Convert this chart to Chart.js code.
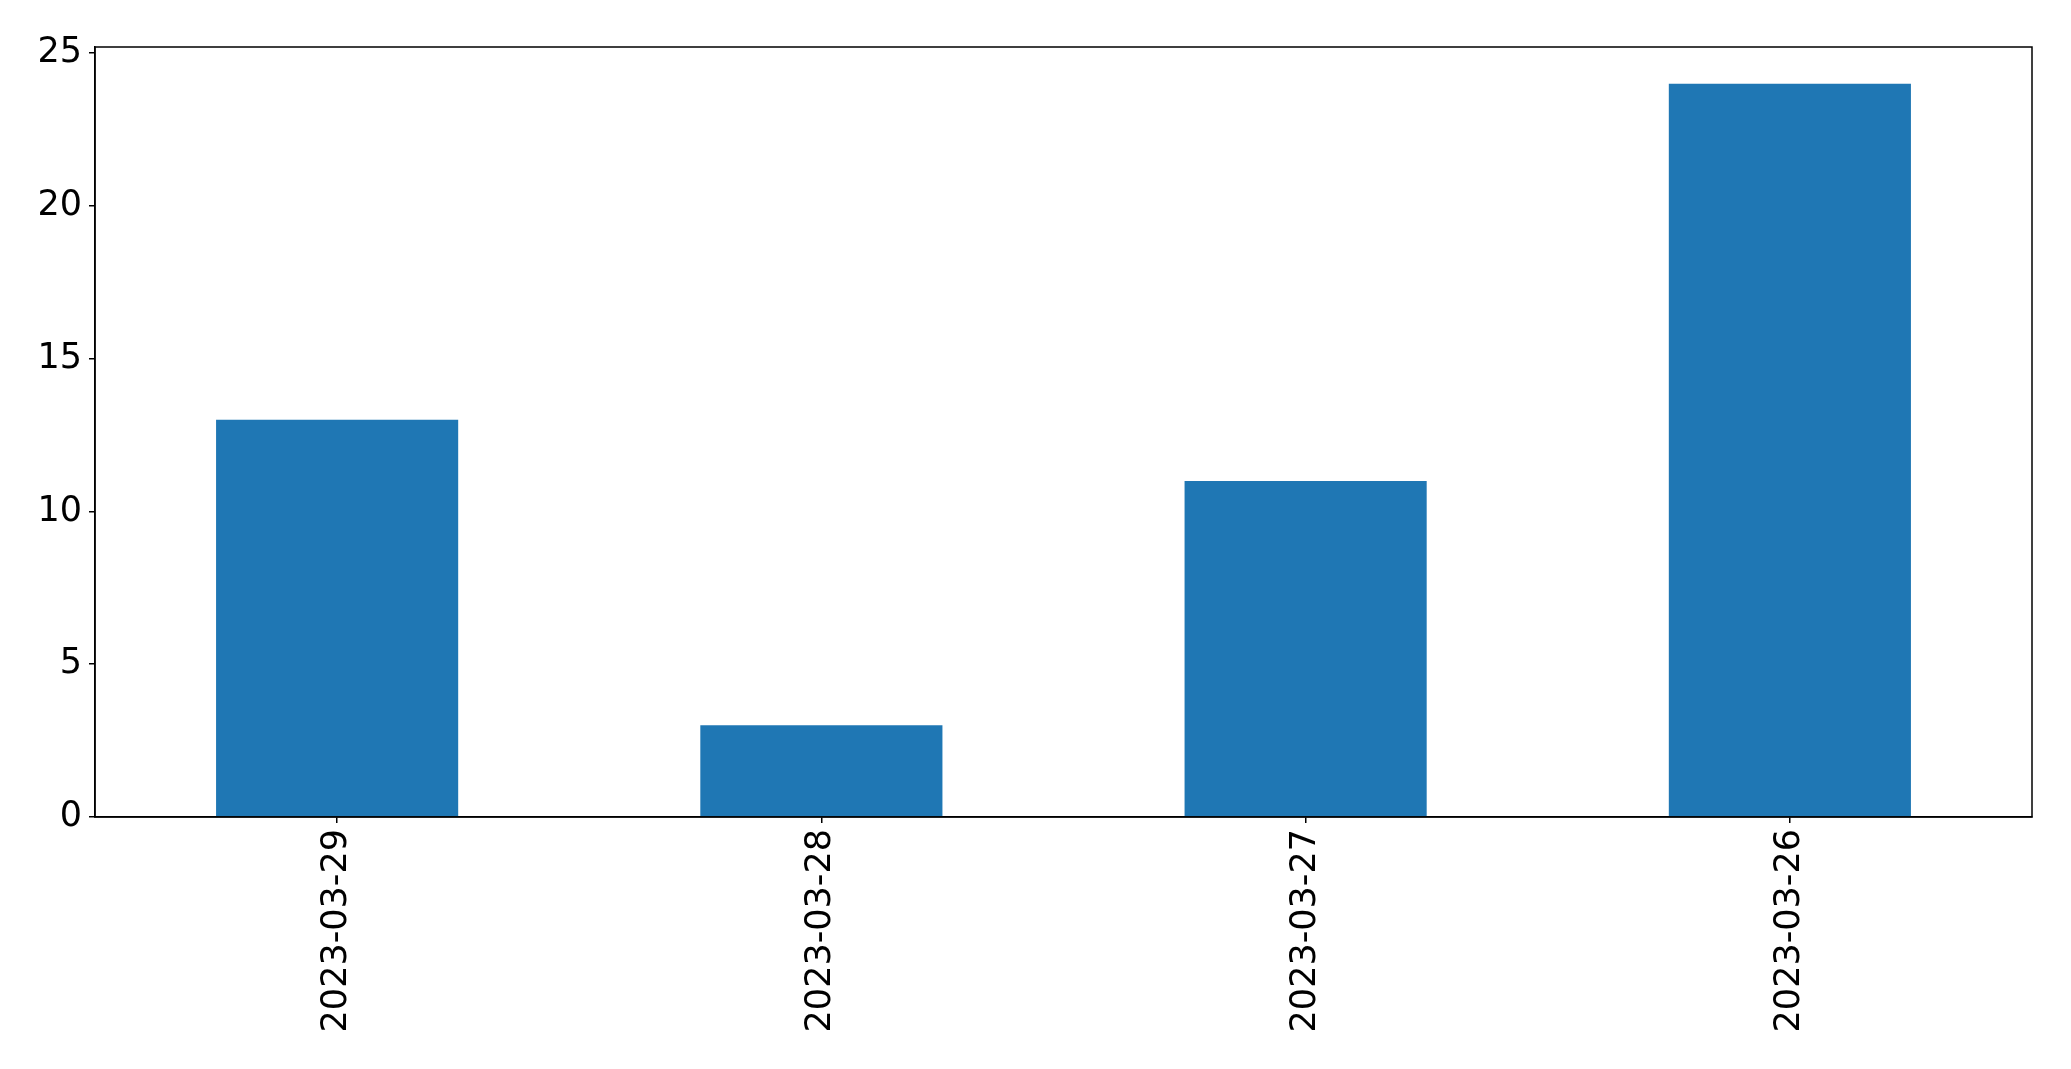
<!DOCTYPE html>
<html>
<head>
<meta charset="utf-8">
<script src="https://cdn.jsdelivr.net/npm/chart.js@4/dist/chart.umd.min.js"></script>
<style>
  html, body { margin: 0; padding: 0; background: #fff; }
  #chart { display: block; }
</style>
</head>
<body>
<canvas id="chart" width="2071" height="1069"></canvas>
<script>
// === DATA ===
const dates = ["2023-03-29", "2023-03-28", "2023-03-27", "2023-03-26"];
const counts = [13, 3, 11, 24];
const yMax = 25.2;

// box around plot area (matplotlib style spines)
const frameBox = {
  id: "frameBox",
  afterDraw(chart) {
    const { ctx, chartArea: a } = chart;
    ctx.save();
    ctx.strokeStyle = "#000";
    ctx.lineWidth = 1.5;
    ctx.strokeRect(a.left, a.top, a.right - a.left, a.bottom - a.top);
    ctx.restore();
  }
};

const tickFont = { family: "DejaVu Sans", size: 35 };

new Chart(document.getElementById("chart"), {
  type: "bar",
  data: {
    labels: dates,
    datasets: [{
      data: counts,
      backgroundColor: "#1f77b4",
      categoryPercentage: 1,
      barPercentage: 0.5
    }]
  },
  options: {
    responsive: false,
    animation: false,
    layout: { padding: { top: 47, right: 39, left: 0, bottom: 0 } },
    plugins: { legend: { display: false }, tooltip: { enabled: false } },
    scales: {
      x: {
        grid: { drawOnChartArea: false, offset: false, tickLength: 6, color: "#000", lineWidth: 1.5 },
        border: { color: "#000", width: 1.5 },
        ticks: { color: "#000", font: tickFont, minRotation: 90, maxRotation: 90, padding: 6 },
        afterFit: (s) => { s.height = 1069 - 817; }
      },
      y: {
        min: 0,
        max: yMax,
        grid: { drawOnChartArea: false, tickLength: 6, color: "#000", lineWidth: 1.5 },
        border: { color: "#000", width: 1.5 },
        ticks: { color: "#000", font: tickFont, stepSize: 5, includeBounds: false, padding: 7 },
        afterFit: (s) => { s.width = 95; }
      }
    }
  },
  plugins: [frameBox]
});
</script>
</body>
</html>
